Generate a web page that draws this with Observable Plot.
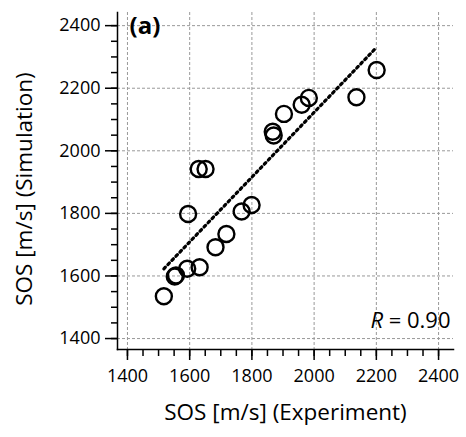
<!DOCTYPE html>
<html>
<head>
<meta charset="utf-8">
<script src="https://cdn.jsdelivr.net/npm/d3@7"></script>
<script src="https://cdn.jsdelivr.net/npm/@observablehq/plot@0.6"></script>
<style>
  html, body { margin: 0; padding: 0; background: #fff; }
  svg { font-family: "Open Sans", sans-serif; }
</style>
</head>
<body>
<div id="chart"></div>
<script>
const expSOS = [1517, 1552, 1556, 1592, 1632, 1595, 1629, 1651, 1683, 1718, 1767, 1799, 1867, 1870, 1903, 1960, 1983, 2136, 2201];
const simSOS = [1535, 1598, 1602, 1623, 1628, 1798, 1942, 1942, 1692, 1734, 1806, 1827, 2061, 2049, 2118, 2147, 2169, 2171, 2258];
const fitX = [1517, 2201];
const fitY = [1623, 2331];
const majorTicks = [1400, 1600, 1800, 2000, 2200, 2400];
const minorTicks = d3.range(1400, 2450, 50);
const panelLabel = "(a)";
const rLabel = "0.90";

const pts = expSOS.map((x, i) => ({x, y: simSOS[i]}));
const fit = fitX.map((x, i) => ({x, y: fitY[i]}));

const plot = Plot.plot({
  width: 466,
  height: 437,
  marginLeft: 117,
  marginRight: 13,
  marginTop: 12,
  marginBottom: 88,
  style: {fontFamily: "Open Sans, sans-serif", fontSize: "18px", color: "#000", background: "#fff"},
  x: {domain: [1368, 2448]},
  y: {domain: [1365, 2442]},
  marks: [
    Plot.gridX(majorTicks, {stroke: "#999", strokeOpacity: 1, strokeWidth: 1, strokeDasharray: "3,2"}),
    Plot.gridY(majorTicks, {stroke: "#999", strokeOpacity: 1, strokeWidth: 1, strokeDasharray: "3,2"}),
    Plot.axisX(minorTicks, {tickSize: 7, text: null, label: null, strokeWidth: 1.5}),
    Plot.axisY(minorTicks, {tickSize: 6, text: null, label: null, strokeWidth: 1.5}),
    Plot.axisX(majorTicks, {tickSize: 11, tickPadding: 9, label: null, strokeWidth: 1.5, fontSize: 18, tickFormat: d => String(d)}),
    Plot.axisY(majorTicks, {tickSize: 12, tickPadding: 5, label: null, strokeWidth: 1.5, fontSize: 18, tickFormat: d => String(d)}),
    Plot.frame({anchor: "left", stroke: "#000", strokeWidth: 1.5}),
    Plot.frame({anchor: "bottom", stroke: "#000", strokeWidth: 1.5}),
    Plot.line(fit, {x: "x", y: "y", stroke: "#000", strokeWidth: 3.2, strokeDasharray: "2.2,3.6"}),
    Plot.dot(pts, {x: "x", y: "y", r: 8, stroke: "#000", strokeWidth: 2.4, fill: "#fff", fillOpacity: 0}),
    Plot.text([panelLabel], {frameAnchor: "top-left", text: d => d, dx: 12, dy: 14, fontSize: 24, fontWeight: "bold", textAnchor: "start", lineAnchor: "middle"}),
    Plot.text([rLabel], {frameAnchor: "bottom-right", text: d => "R = " + d, dx: -3, dy: -29, fontSize: 22, textAnchor: "end", lineAnchor: "middle", className: "rlab"}),
    Plot.text(["SOS [m/s] (Experiment)"], {frameAnchor: "bottom", text: d => d, dy: 63, fontSize: 22.5, textAnchor: "middle", lineAnchor: "middle"}),
    Plot.text(["SOS [m/s] (Simulation)"], {frameAnchor: "left", text: d => d, dx: -93, dy: 8, rotate: -90, fontSize: 22.5, textAnchor: "middle", lineAnchor: "middle"})
  ]
});
document.getElementById("chart").appendChild(plot);

// italicize R
d3.select(plot).selectAll("g.rlab text").each(function() {
  const t = d3.select(this);
  const s = t.text();
  const rest = s.slice(1);
  t.text(null);
  t.append("tspan").attr("font-style", "italic").text("R");
  t.append("tspan").text(rest);
});
</script>
</body>
</html>
